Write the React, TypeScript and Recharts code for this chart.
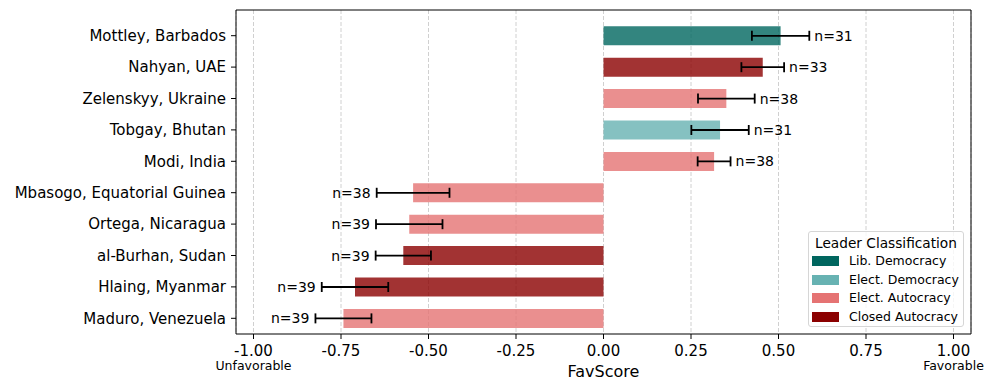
import React from "react";
import {
  BarChart,
  Bar,
  XAxis,
  YAxis,
  CartesianGrid,
  ErrorBar,
  LabelList,
  Cell,
  Legend,
} from "recharts";

const FONT = "'DejaVu Sans', sans-serif";

// leaders, top to bottom
const leaders = [
  "Mottley, Barbados",
  "Nahyan, UAE",
  "Zelenskyy, Ukraine",
  "Tobgay, Bhutan",
  "Modi, India",
  "Mbasogo, Equatorial Guinea",
  "Ortega, Nicaragua",
  "al-Burhan, Sudan",
  "Hlaing, Myanmar",
  "Maduro, Venezuela",
];
const scores = [0.506, 0.455, 0.351, 0.333, 0.316, -0.544, -0.555, -0.572, -0.71, -0.743];
const errors = [0.082, 0.061, 0.081, 0.082, 0.047, 0.104, 0.095, 0.079, 0.095, 0.08];
const counts = [31, 33, 38, 31, 38, 38, 39, 39, 39, 39];
const regimes = [
  "Lib. Democracy",
  "Closed Autocracy",
  "Elect. Autocracy",
  "Elect. Democracy",
  "Elect. Autocracy",
  "Elect. Autocracy",
  "Elect. Autocracy",
  "Closed Autocracy",
  "Closed Autocracy",
  "Elect. Autocracy",
];

const regimeNames = ["Lib. Democracy", "Elect. Democracy", "Elect. Autocracy", "Closed Autocracy"];
const regimeColors = ["#00665f", "#67b2b2", "#e57373", "#8b0000"];

const xTicks = [-1, -0.75, -0.5, -0.25, 0, 0.25, 0.5, 0.75, 1];

const colorOf = (r: string) => regimeColors[regimeNames.indexOf(r)];

const data = leaders.map((name, i) => ({
  name,
  score: scores[i],
  err: errors[i],
  n: counts[i],
  regime: regimes[i],
}));

function XTick(props: any) {
  const { x, y, payload } = props;
  const v: number = payload.value;
  const extra = v === -1 ? "Unfavorable" : v === 1 ? "Favorable" : null;
  return (
    <g>
      <text x={x} y={y} dy="0.71em" textAnchor="middle" fontSize={15} fill="#000" fontFamily={FONT}>
        {v.toFixed(2)}
      </text>
      {extra && (
        <text x={x} y={y + 25} textAnchor="middle" fontSize={12.5} fill="#000" fontFamily={FONT}>
          {extra}
        </text>
      )}
    </g>
  );
}

// n=.. label sits just past the end of the error bar
function CountLabel(props: any) {
  const i = props.index;
  const vb = props.viewBox && props.viewBox.width !== undefined ? props.viewBox : props;
  const { x, y, width, height } = vb;
  const v = scores[i];
  const pxPerUnit = Math.abs(width) / Math.abs(v);
  const reach = errors[i] * pxPerUnit;
  const cy = y + height / 2;
  const pos = v >= 0;
  const end = pos ? Math.max(x, x + width) : Math.min(x, x + width);
  return (
    <text
      x={pos ? end + reach + 5 : end - reach - 6}
      y={cy}
      dy="0.36em"
      textAnchor={pos ? "start" : "end"}
      fontSize={14}
      fill="#000"
      fontFamily={FONT}
    >
      n={counts[i]}
    </text>
  );
}

function LegendBox() {
  return (
    <div
      style={{
        width: 154,
        height: 94,
        border: "1px solid #d6d6d6",
        borderRadius: 3,
        background: "rgba(255,255,255,0.8)",
        fontFamily: FONT,
        color: "#000",
      }}
    >
      <div style={{ textAlign: "center", fontSize: 13.7, lineHeight: "18px", paddingTop: 2 }}>
        Leader Classification
      </div>
      {regimeNames.map((r, i) => (
        <div key={r} style={{ display: "flex", alignItems: "center", height: 18.5 }}>
          <span
            style={{
              display: "inline-block",
              width: 27,
              height: 10,
              background: regimeColors[i],
              marginLeft: 3.3,
              marginRight: 9.7,
            }}
          />
          <span style={{ fontSize: 12.5, lineHeight: "18.5px", whiteSpace: "nowrap" }}>{r}</span>
        </div>
      ))}
    </div>
  );
}

export default function App() {
  return (
    <div style={{ position: "absolute", left: 0, top: 0, fontFamily: FONT }}>
      <BarChart
        width={997}
        height={391}
        data={data}
        layout="vertical"
        margin={{ top: 9, right: 25, bottom: 0, left: 0 }}
        barCategoryGap="20%"
      >
        <CartesianGrid horizontal={false} stroke="#d0d0d0" strokeDasharray="4 2" />
        <XAxis
          type="number"
          domain={[-1.05, 1.05]}
          ticks={xTicks}
          allowDataOverflow
          height={57}
          tickSize={5}
          tickMargin={6}
          axisLine={{ stroke: "#000" }}
          tickLine={{ stroke: "#000" }}
          tick={<XTick />}
          label={(p: any) => {
            const vb = p.viewBox;
            return (
              <text x={vb.x + vb.width / 2} y={377} textAnchor="middle" fontSize={16} fill="#000" fontFamily={FONT}>
                FavScore
              </text>
            );
          }}
        />
        <XAxis
          xAxisId="top"
          orientation="top"
          type="number"
          domain={[-1.05, 1.05]}
          allowDataOverflow
          height={1}
          tick={false}
          tickLine={false}
          axisLine={{ stroke: "#000" }}
        />
        <YAxis
          type="category"
          dataKey="name"
          width={236}
          padding={{ top: 10, bottom: 0 }}
          tickSize={5}
          tickMargin={5}
          axisLine={{ stroke: "#000" }}
          tickLine={{ stroke: "#000" }}
          tick={{ fontSize: 15, fill: "#000", fontFamily: FONT }}
          interval={0}
        />
        <YAxis
          yAxisId="right"
          orientation="right"
          type="category"
          dataKey="name"
          width={1}
          tick={false}
          tickLine={false}
          axisLine={{ stroke: "#000" }}
        />
        <Legend
          layout="vertical"
          align="center"
          verticalAlign="middle"
          wrapperStyle={{ left: 808, top: 231, width: 156, height: 96 }}
          content={() => <LegendBox />}
        />
        <Bar dataKey="score" isAnimationActive={false}>
          {data.map((d) => (
            <Cell key={d.name} fill={colorOf(d.regime)} fillOpacity={0.8} />
          ))}
          <ErrorBar dataKey="err" direction="x" width={5} stroke="#000" strokeWidth={1.8} isAnimationActive={false} />
          <LabelList dataKey="n" content={(p: any) => <CountLabel {...p} />} />
        </Bar>
      </BarChart>
    </div>
  );
}
